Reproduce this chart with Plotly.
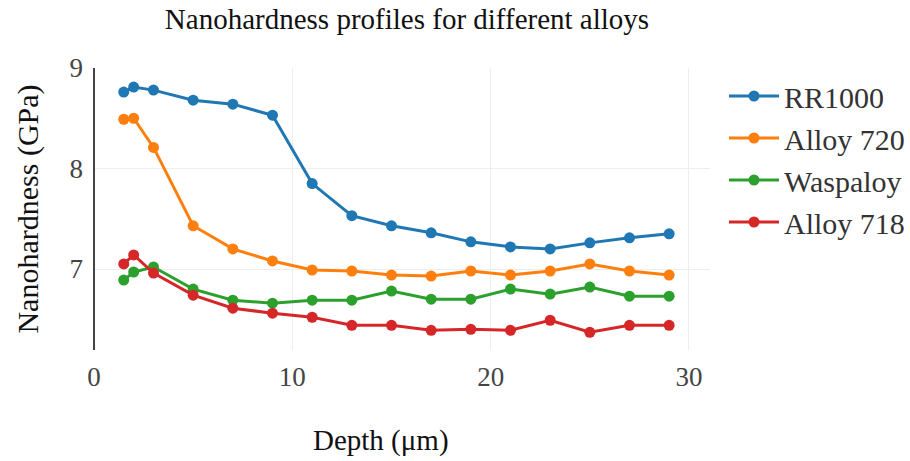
import plotly.graph_objects as go

depth = [1.5, 2, 3, 5, 7, 9, 11, 13, 15, 17, 19, 21, 23, 25, 27, 29]
rr1000 = [8.76, 8.81, 8.78, 8.68, 8.64, 8.53, 7.85, 7.53, 7.43, 7.36, 7.27, 7.22, 7.20, 7.26, 7.31, 7.35]
alloy720 = [8.49, 8.50, 8.21, 7.43, 7.20, 7.08, 6.99, 6.98, 6.94, 6.93, 6.98, 6.94, 6.98, 7.05, 6.98, 6.94]
waspaloy = [6.89, 6.97, 7.02, 6.80, 6.69, 6.66, 6.69, 6.69, 6.78, 6.70, 6.70, 6.80, 6.75, 6.82, 6.73, 6.73]
alloy718 = [7.05, 7.14, 6.96, 6.74, 6.61, 6.56, 6.52, 6.44, 6.44, 6.39, 6.40, 6.39, 6.49, 6.37, 6.44, 6.44]

names = ["RR1000", "Alloy 720", "Waspaloy", "Alloy 718"]
series = [rr1000, alloy720, waspaloy, alloy718]
colors = ["#1f77b4", "#ff7f0e", "#2ca02c", "#d62728"]

FONT = "Liberation Serif, Times New Roman, serif"

fig = go.Figure()
for n, s, c in zip(names, series, colors):
    fig.add_trace(go.Scatter(x=depth, y=s, name=n, mode="lines+markers",
                             line=dict(color=c, width=3),
                             marker=dict(color=c, size=11)))

L, R, T, B = 94, 200, 68, 111
pw = 910 - L - R
ph = 461 - T - B

fig.update_layout(
    width=910, height=461,
    template="none",
    paper_bgcolor="white", plot_bgcolor="white",
    margin=dict(l=L, r=R, t=T, b=B, pad=0, autoexpand=False),
    font=dict(family=FONT, size=28, color="#444"),
    title=dict(text="Nanohardness profiles for different alloys",
               font=dict(family=FONT, size=29, color="#111"),
               x=(407 - L) / pw, xref="paper", xanchor="center",
               y=1 - 19 / 461, yref="container", yanchor="middle"),
    xaxis=dict(range=[0, 31.06], tickvals=[0, 10, 20, 30], showgrid=True,
               gridcolor="#eee", gridwidth=1, zeroline=True, zerolinecolor="#444",
               zerolinewidth=1.5, showline=False, ticks="", ticklabelstandoff=8,
               automargin=False,
               tickfont=dict(size=27, color="#444")),
    yaxis=dict(range=[6.194, 9.0], tickvals=[7, 8, 9], showgrid=True,
               gridcolor="#eee", gridwidth=1, zeroline=False, showline=False, ticks="",
               ticklabelstandoff=10, automargin=False,
               tickfont=dict(size=27, color="#444"),
               title=dict(text="Nanohardness (GPa)", font=dict(size=30, color="#111"), standoff=22)),
    legend=dict(x=(724 - L) / pw, y=1 + (T - 70) / ph, xanchor="left", yanchor="top",
                font=dict(family=FONT, size=30, color="#333"),
                itemwidth=50,
                bgcolor="rgba(0,0,0,0)"),
    annotations=[dict(text="Depth (\u03bcm)",
                      x=(381 - L) / pw, y=(461 - B - 440) / ph,
                      xref="paper", yref="paper", xanchor="center", yanchor="middle",
                      showarrow=False, font=dict(family=FONT, size=29, color="#111"))],
)

fig.write_html("out.html")
